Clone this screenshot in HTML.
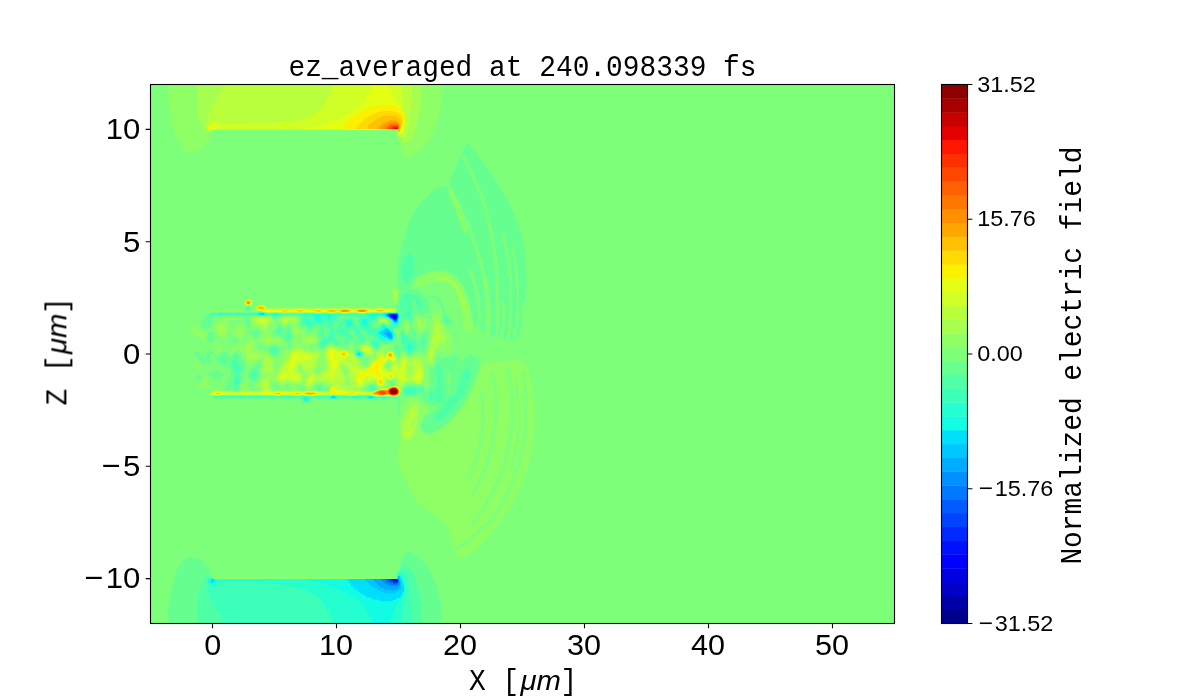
<!DOCTYPE html>
<html lang="en"><head><meta charset="utf-8"><title>ez_averaged at 240.098339 fs</title>
<style>
html,body{margin:0;padding:0;background:#fff;}
body{width:1200px;height:700px;overflow:hidden;font-family:"Liberation Sans",sans-serif;}
svg{display:block;}
.sans{font-family:"Liberation Sans",sans-serif;fill:#000;}
.mono{font-family:"Liberation Mono",monospace;fill:#000;}
.ital{font-family:"Liberation Sans",sans-serif;font-style:italic;fill:#000;}
.ln{stroke:#000;stroke-width:1.111;fill:none;}
</style></head><body>
<svg width="1200" height="700" viewBox="0 0 1200 700">
<rect x="0" y="0" width="1200" height="700" fill="#fff"/>

<defs>
<clipPath id="axclip"><rect x="150.5" y="84.5" width="744.0" height="539.0"/></clipPath>
<filter id="jet" filterUnits="userSpaceOnUse" x="140" y="74" width="765" height="560" color-interpolation-filters="sRGB">
<feComponentTransfer><feFuncR type="discrete" tableValues="0.0000 0.0000 0.0000 0.0000 0.0000 0.0000 0.0000 0.0000 0.0000 0.0000 0.0000 0.0000 0.0000 0.0000 0.0745 0.1490 0.2353 0.3137 0.4000 0.4902 0.5647 0.6549 0.7294 0.8196 0.8941 0.9843 1.0000 1.0000 1.0000 1.0000 1.0000 1.0000 1.0000 1.0000 1.0000 0.8941 0.7843 0.6588 0.5529"/><feFuncG type="discrete" tableValues="0.0000 0.0000 0.0000 0.0000 0.0000 0.0627 0.1569 0.2667 0.3608 0.4706 0.5647 0.6745 0.7843 0.8784 0.9882 1.0000 1.0000 1.0000 1.0000 1.0000 1.0000 1.0000 1.0000 1.0000 1.0000 0.9451 0.8588 0.7569 0.6549 0.5686 0.4667 0.3765 0.2784 0.1882 0.0863 0.0000 0.0000 0.0000 0.0000"/><feFuncB type="discrete" tableValues="0.5529 0.6588 0.7843 0.8902 1.0000 1.0000 1.0000 1.0000 1.0000 1.0000 1.0000 1.0000 1.0000 0.9843 0.8941 0.8196 0.7294 0.6549 0.5647 0.4784 0.4000 0.3137 0.2353 0.1490 0.0745 0.0000 0.0000 0.0000 0.0000 0.0000 0.0000 0.0000 0.0000 0.0000 0.0000 0.0000 0.0000 0.0000 0.0000"/></feComponentTransfer>
<feGaussianBlur stdDeviation="0.45"/>
</filter>
<filter id="b15" filterUnits="userSpaceOnUse" x="140" y="60" width="765" height="590" color-interpolation-filters="sRGB"><feGaussianBlur stdDeviation="1.5"/></filter>
<filter id="b08" filterUnits="userSpaceOnUse" x="140" y="60" width="765" height="590" color-interpolation-filters="sRGB"><feGaussianBlur stdDeviation="0.8"/></filter>
<filter id="b6" filterUnits="userSpaceOnUse" x="140" y="60" width="765" height="590" color-interpolation-filters="sRGB"><feGaussianBlur stdDeviation="6"/></filter>
<filter id="b3" filterUnits="userSpaceOnUse" x="140" y="60" width="765" height="590" color-interpolation-filters="sRGB"><feGaussianBlur stdDeviation="3"/></filter>
</defs>
<g clip-path="url(#axclip)"><g filter="url(#jet)">
<rect x="130" y="60" width="790" height="590" fill="#808080"/>
<g filter="url(#b15)" transform="translate(0,0.4)">
<path d="M168.9 40.0C127.9 43.3 168.9 55.4 168.9 62.0C168.9 68.6 169.0 77.8 168.9 84.0C168.8 90.2 167.8 97.6 168.3 103.0C168.8 108.4 171.1 114.9 172.3 120.0C173.5 125.1 174.5 132.7 176.3 137.0C178.1 141.3 182.4 146.4 184.3 148.6C186.2 150.8 186.5 151.4 188.9 151.4C191.3 151.4 197.4 150.2 200.3 148.6C203.2 147.0 206.6 143.2 208.3 140.6C210.0 138.0 210.8 133.7 211.7 131.4C212.6 129.1 200.8 126.0 214.0 125.0C227.2 124.0 272.7 125.0 300.0 125.0C327.3 125.0 381.1 122.6 396.0 125.0C410.9 127.4 398.1 137.2 399.0 141.0C399.9 144.8 400.7 147.7 402.0 150.0C403.3 152.3 405.8 156.0 407.7 156.6C409.6 157.2 412.9 155.3 415.0 154.0C417.1 152.7 419.8 150.6 422.0 148.0C424.2 145.4 427.8 141.2 430.0 137.0C432.2 132.8 435.4 124.5 437.0 120.0C438.6 115.5 439.9 112.1 440.7 106.7C441.4 101.3 441.8 90.7 442.0 84.0C442.2 77.3 442.0 68.6 442.0 62.0C442.0 55.4 483.0 43.3 442.0 40.0C401.0 36.7 209.9 36.7 168.9 40.0Z" fill="#868686"/>
<path d="M197.4 40.0C163.6 43.3 197.4 55.4 197.4 62.0C197.4 68.6 197.5 77.8 197.4 84.0C197.3 90.2 196.7 97.9 196.9 103.0C197.1 108.1 198.0 114.0 199.0 117.7C200.0 121.5 202.3 125.9 203.7 128.0C205.1 130.1 207.1 131.6 208.3 131.8C209.5 132.0 210.8 130.6 212.0 129.4C213.2 128.2 202.8 124.8 216.0 124.0C229.2 123.2 273.0 124.0 300.0 124.0C327.0 124.0 381.1 122.0 396.0 124.0C410.9 126.0 398.6 134.4 399.5 137.0C400.4 139.6 401.1 140.6 402.0 141.5C402.9 142.4 404.2 143.3 405.4 142.9C406.6 142.5 408.7 140.5 410.0 139.0C411.3 137.5 412.8 135.8 414.0 133.0C415.2 130.2 417.0 123.9 418.0 120.0C419.0 116.1 420.0 112.1 420.7 106.7C421.4 101.3 422.3 90.7 422.6 84.0C422.9 77.3 422.6 68.6 422.6 62.0C422.6 55.4 456.4 43.3 422.6 40.0C388.8 36.7 231.2 36.7 197.4 40.0Z" fill="#8d8d8d"/>
<path d="M224.3 40.0C196.1 43.3 224.3 55.4 224.3 62.0C224.3 68.6 225.2 79.0 224.3 84.0C223.4 89.0 220.5 91.5 218.6 95.0C216.7 98.5 213.2 104.0 211.7 107.4C210.2 110.8 208.7 115.0 208.3 117.7C207.9 120.4 208.3 123.9 208.9 125.7C209.5 127.5 210.9 129.8 212.0 129.8C213.1 129.8 202.8 126.6 216.0 126.0C229.2 125.4 273.0 126.0 300.0 126.0C327.0 126.0 381.0 124.8 396.0 126.0C411.0 127.2 398.9 132.3 400.0 134.0C401.1 135.7 402.1 137.5 403.0 137.5C403.9 137.5 405.2 135.9 406.0 134.0C406.8 132.1 407.8 129.1 408.5 125.0C409.2 120.9 409.9 112.9 410.5 106.7C411.1 100.5 412.0 90.7 412.3 84.0C412.6 77.3 412.3 68.6 412.3 62.0C412.3 55.4 440.5 43.3 412.3 40.0C384.1 36.7 252.5 36.7 224.3 40.0Z" fill="#939393"/>
<path d="M333.0 40.0C322.7 43.3 333.0 55.4 333.0 62.0C333.0 68.6 333.6 79.1 333.0 84.0C332.4 88.9 330.6 91.6 329.0 94.9C327.4 98.2 324.7 103.4 322.3 106.3C319.9 109.2 316.8 112.2 313.0 114.3C309.2 116.4 303.4 118.8 297.0 120.0C290.6 121.2 278.6 121.8 270.0 122.3C261.4 122.8 247.2 123.1 240.0 123.2C232.8 123.3 225.6 123.4 222.0 123.0C218.4 122.6 217.4 120.7 216.0 120.5C214.6 120.3 213.3 120.7 212.5 121.5C211.7 122.3 210.6 124.7 210.5 126.0C210.4 127.3 198.6 129.2 212.0 130.0C225.4 130.8 272.4 130.8 300.0 131.0C327.6 131.2 380.9 131.0 396.0 131.0C411.1 131.0 399.6 132.7 400.5 131.0C401.4 129.3 402.0 124.7 402.3 120.0C402.6 115.3 402.6 105.4 402.5 100.0C402.4 94.6 401.8 89.7 401.7 84.0C401.6 78.3 401.7 68.6 401.7 62.0C401.7 55.4 412.0 43.3 401.7 40.0C391.4 36.7 343.3 36.7 333.0 40.0Z" fill="#9a9a9a"/>
<path d="M373.0 40.0C370.6 43.3 373.0 55.4 373.0 62.0C373.0 68.6 373.9 78.8 373.0 84.0C372.1 89.2 368.9 93.7 367.0 97.0C365.1 100.3 362.6 103.9 360.0 106.3C357.4 108.7 353.1 110.9 349.7 113.0C346.2 115.1 341.5 118.1 337.0 120.0C332.5 121.9 324.9 124.4 320.0 125.7C315.1 127.0 307.0 127.9 304.0 129.0C301.0 130.1 293.1 132.1 300.0 133.0C306.9 133.9 335.6 135.0 350.0 135.0C364.4 135.0 388.1 133.6 396.0 133.0C403.9 132.4 401.5 132.9 402.6 131.0C403.7 129.1 403.8 123.7 403.4 120.6C403.0 117.5 401.3 113.5 400.0 110.3C398.7 107.1 396.6 102.9 395.0 99.0C393.4 95.1 389.9 89.5 389.0 84.0C388.1 78.5 389.0 68.6 389.0 62.0C389.0 55.4 391.4 43.3 389.0 40.0C386.6 36.7 375.4 36.7 373.0 40.0Z" fill="#a0a0a0"/>
</g>
<defs><radialGradient id="hst" gradientUnits="userSpaceOnUse" cx="0" cy="0" r="1" fx="0.8534" fy="0.0250" gradientTransform="translate(366.36,128.18) matrix(1,0,-0.55,1,0,0) scale(36.60,28.80)"><stop offset="0" stop-color="#f2f2f2"/><stop offset="0.0167" stop-color="#ebebeb" stop-opacity="1.0"/><stop offset="0.0417" stop-color="#e5e5e5" stop-opacity="1.0"/><stop offset="0.0667" stop-color="#dedede" stop-opacity="1.0"/><stop offset="0.0917" stop-color="#d8d8d8" stop-opacity="1.0"/><stop offset="0.1167" stop-color="#d1d1d1" stop-opacity="1.0"/><stop offset="0.1500" stop-color="#cbcbcb" stop-opacity="1.0"/><stop offset="0.1833" stop-color="#c4c4c4" stop-opacity="1.0"/><stop offset="0.2333" stop-color="#bebebe" stop-opacity="1.0"/><stop offset="0.3000" stop-color="#b7b7b7" stop-opacity="1.0"/><stop offset="0.4417" stop-color="#b1b1b1" stop-opacity="1.0"/><stop offset="0.6000" stop-color="#aaaaaa" stop-opacity="1.0"/><stop offset="0.8333" stop-color="#a3a3a3" stop-opacity="1.0"/><stop offset="0.9333" stop-color="#9d9d9d" stop-opacity="0.0"/></radialGradient>
<clipPath id="cpt"><rect x="150" y="40.00" width="300" height="89.80"/></clipPath></defs>
<rect x="200" y="40.00" width="230" height="89.80" fill="url(#hst)" clip-path="url(#cpt)"/>
<rect x="212.6" y="129.80" width="185.0" height="26.00" fill="#808080"/>
<defs><radialGradient id="let" gradientUnits="userSpaceOnUse" cx="212.6" cy="127.60" r="6"><stop offset="0" stop-color="#a7a7a7"/><stop offset="0.35" stop-color="#a3a3a3"/><stop offset="0.6" stop-color="#9e9e9e" stop-opacity="0.9"/><stop offset="1" stop-color="#969696" stop-opacity="0"/></radialGradient></defs>
<rect x="205" y="121.60" width="16" height="8.20" fill="url(#let)"/>
<defs><radialGradient id="wrt" gradientUnits="userSpaceOnUse" cx="397.2" cy="128.90" r="10"><stop offset="0" stop-color="#dbdbdb"/><stop offset="0.2" stop-color="#bababa"/><stop offset="0.42" stop-color="#a4a4a4"/><stop offset="0.62" stop-color="#9a9a9a" stop-opacity="0.8"/><stop offset="1" stop-color="#909090" stop-opacity="0"/></radialGradient></defs>
<rect x="397.6" y="129.80" width="12" height="12" fill="url(#wrt)"/>
<g filter="url(#b15)" transform="translate(0,-0.4)">
<path d="M168.9 668.5C127.9 665.2 168.9 653.1 168.9 646.5C168.9 639.9 169.0 630.6 168.9 624.5C168.8 618.4 167.8 610.9 168.3 605.5C168.8 600.1 171.1 593.6 172.3 588.5C173.5 583.4 174.5 575.8 176.3 571.5C178.1 567.2 182.4 562.1 184.3 559.9C186.2 557.7 186.5 557.1 188.9 557.1C191.3 557.1 197.4 558.3 200.3 559.9C203.2 561.5 206.6 565.3 208.3 567.9C210.0 570.5 210.8 574.8 211.7 577.1C212.6 579.4 200.8 582.5 214.0 583.5C227.2 584.5 272.7 583.5 300.0 583.5C327.3 583.5 381.1 585.9 396.0 583.5C410.9 581.1 398.1 571.2 399.0 567.5C399.9 563.8 400.7 560.8 402.0 558.5C403.3 556.2 405.8 552.5 407.7 551.9C409.6 551.3 412.9 553.2 415.0 554.5C417.1 555.8 419.8 558.0 422.0 560.5C424.2 563.0 427.8 567.3 430.0 571.5C432.2 575.7 435.4 584.0 437.0 588.5C438.6 593.0 439.9 596.4 440.7 601.8C441.4 607.2 441.8 617.8 442.0 624.5C442.2 631.2 442.0 639.9 442.0 646.5C442.0 653.1 483.0 665.2 442.0 668.5C401.0 671.8 209.9 671.8 168.9 668.5Z" fill="#797979"/>
<path d="M197.4 668.5C163.6 665.2 197.4 653.1 197.4 646.5C197.4 639.9 197.5 630.6 197.4 624.5C197.3 618.4 196.7 610.6 196.9 605.5C197.1 600.4 198.0 594.5 199.0 590.8C200.0 587.0 202.3 582.6 203.7 580.5C205.1 578.4 207.1 576.9 208.3 576.7C209.5 576.5 210.8 577.9 212.0 579.1C213.2 580.3 202.8 583.7 216.0 584.5C229.2 585.3 273.0 584.5 300.0 584.5C327.0 584.5 381.1 586.5 396.0 584.5C410.9 582.5 398.6 574.1 399.5 571.5C400.4 568.9 401.1 567.9 402.0 567.0C402.9 566.1 404.2 565.2 405.4 565.6C406.6 566.0 408.7 568.0 410.0 569.5C411.3 571.0 412.8 572.6 414.0 575.5C415.2 578.4 417.0 584.6 418.0 588.5C419.0 592.4 420.0 596.4 420.7 601.8C421.4 607.2 422.3 617.8 422.6 624.5C422.9 631.2 422.6 639.9 422.6 646.5C422.6 653.1 456.4 665.2 422.6 668.5C388.8 671.8 231.2 671.8 197.4 668.5Z" fill="#727272"/>
<path d="M224.3 668.5C196.1 665.2 224.3 653.1 224.3 646.5C224.3 639.9 225.2 629.5 224.3 624.5C223.4 619.5 220.5 617.0 218.6 613.5C216.7 610.0 213.2 604.5 211.7 601.1C210.2 597.7 208.7 593.5 208.3 590.8C207.9 588.1 208.3 584.6 208.9 582.8C209.5 581.0 210.9 578.7 212.0 578.7C213.1 578.7 202.8 581.9 216.0 582.5C229.2 583.1 273.0 582.5 300.0 582.5C327.0 582.5 381.0 583.7 396.0 582.5C411.0 581.3 398.9 576.2 400.0 574.5C401.1 572.8 402.1 571.0 403.0 571.0C403.9 571.0 405.2 572.6 406.0 574.5C406.8 576.4 407.8 579.4 408.5 583.5C409.2 587.6 409.9 595.6 410.5 601.8C411.1 607.9 412.0 617.8 412.3 624.5C412.6 631.2 412.3 639.9 412.3 646.5C412.3 653.1 440.5 665.2 412.3 668.5C384.1 671.8 252.5 671.8 224.3 668.5Z" fill="#6c6c6c"/>
<path d="M333.0 668.5C322.7 665.2 333.0 653.1 333.0 646.5C333.0 639.9 333.6 629.4 333.0 624.5C332.4 619.6 330.6 616.9 329.0 613.6C327.4 610.3 324.7 605.1 322.3 602.2C319.9 599.3 316.8 596.4 313.0 594.2C309.2 592.0 303.4 588.9 297.0 587.3C290.6 585.7 278.6 584.5 270.0 583.8C261.4 583.1 247.2 583.0 240.0 582.9C232.8 582.8 225.6 582.7 222.0 583.1C218.4 583.5 217.4 585.4 216.0 585.6C214.6 585.8 213.3 585.1 212.5 584.6C211.7 584.1 210.6 583.4 210.5 582.5C210.4 581.6 198.6 579.2 212.0 578.5C225.4 577.8 272.4 577.6 300.0 577.5C327.6 577.4 380.9 577.5 396.0 577.5C411.1 577.5 399.6 575.9 400.5 577.5C401.4 579.1 402.0 583.9 402.3 588.5C402.6 593.1 402.6 603.1 402.5 608.5C402.4 613.9 401.8 618.8 401.7 624.5C401.6 630.2 401.7 639.9 401.7 646.5C401.7 653.1 412.0 665.2 401.7 668.5C391.4 671.8 343.3 671.8 333.0 668.5Z" fill="#656565"/>
<path d="M373.0 668.5C370.6 665.2 373.0 653.1 373.0 646.5C373.0 639.9 373.9 629.8 373.0 624.5C372.1 619.2 368.9 614.8 367.0 611.5C365.1 608.2 362.6 604.6 360.0 602.2C357.4 599.8 353.1 597.6 349.7 595.5C346.2 593.4 341.5 590.4 337.0 588.5C332.5 586.6 324.9 584.1 320.0 582.8C315.1 581.4 307.0 580.6 304.0 579.5C301.0 578.4 293.1 576.4 300.0 575.5C306.9 574.6 335.6 573.5 350.0 573.5C364.4 573.5 388.1 574.9 396.0 575.5C403.9 576.1 401.5 575.6 402.6 577.5C403.7 579.4 403.8 584.8 403.4 587.9C403.0 591.0 401.3 595.0 400.0 598.2C398.7 601.4 396.6 605.6 395.0 609.5C393.4 613.4 389.9 619.0 389.0 624.5C388.1 630.0 389.0 639.9 389.0 646.5C389.0 653.1 391.4 665.2 389.0 668.5C386.6 671.8 375.4 671.8 373.0 668.5Z" fill="#5f5f5f"/>
</g>
<defs><radialGradient id="hsb" gradientUnits="userSpaceOnUse" cx="0" cy="0" r="1" fx="0.8534" fy="-0.0250" gradientTransform="translate(366.36,580.32) matrix(1,0,0.55,1,0,0) scale(36.60,28.80)"><stop offset="0" stop-color="#0d0d0d"/><stop offset="0.0130" stop-color="#141414" stop-opacity="1.0"/><stop offset="0.0325" stop-color="#1a1a1a" stop-opacity="1.0"/><stop offset="0.0520" stop-color="#212121" stop-opacity="1.0"/><stop offset="0.0715" stop-color="#272727" stop-opacity="1.0"/><stop offset="0.0910" stop-color="#2e2e2e" stop-opacity="1.0"/><stop offset="0.1170" stop-color="#343434" stop-opacity="1.0"/><stop offset="0.1430" stop-color="#3b3b3b" stop-opacity="1.0"/><stop offset="0.1820" stop-color="#414141" stop-opacity="1.0"/><stop offset="0.2340" stop-color="#484848" stop-opacity="1.0"/><stop offset="0.3445" stop-color="#4e4e4e" stop-opacity="1.0"/><stop offset="0.4680" stop-color="#555555" stop-opacity="1.0"/><stop offset="0.7500" stop-color="#5c5c5c" stop-opacity="1.0"/><stop offset="0.9333" stop-color="#626262" stop-opacity="0.0"/></radialGradient>
<clipPath id="cpb"><rect x="150" y="578.70" width="300" height="89.80"/></clipPath></defs>
<rect x="200" y="578.70" width="230" height="89.80" fill="url(#hsb)" clip-path="url(#cpb)"/>
<rect x="212.6" y="552.70" width="185.0" height="26.00" fill="#808080"/>
<defs><radialGradient id="leb" gradientUnits="userSpaceOnUse" cx="212.6" cy="580.90" r="6"><stop offset="0" stop-color="#585858"/><stop offset="0.35" stop-color="#5c5c5c"/><stop offset="0.6" stop-color="#616161" stop-opacity="0.9"/><stop offset="1" stop-color="#696969" stop-opacity="0"/></radialGradient></defs>
<rect x="205" y="578.70" width="16" height="8.20" fill="url(#leb)"/>
<rect x="214" y="577.70" width="182" height="1.0" fill="#8b8b8b"/>
<defs><radialGradient id="wrb" gradientUnits="userSpaceOnUse" cx="397.2" cy="579.60" r="10"><stop offset="0" stop-color="#242424"/><stop offset="0.2" stop-color="#454545"/><stop offset="0.42" stop-color="#5b5b5b"/><stop offset="0.62" stop-color="#656565" stop-opacity="0.8"/><stop offset="1" stop-color="#6f6f6f" stop-opacity="0"/></radialGradient></defs>
<rect x="397.6" y="566.70" width="12" height="12" fill="url(#wrb)"/>
<g filter="url(#b15)">
<path d="M467.5 143.5C470.0 144.2 474.2 151.2 478.0 156.0C481.8 160.8 485.5 165.3 490.0 172.0C494.5 178.7 500.5 187.8 505.0 196.0C509.5 204.2 513.8 212.7 517.0 221.0C520.2 229.3 522.4 237.5 524.0 246.0C525.6 254.5 526.2 263.0 526.5 272.0C526.8 281.0 526.8 291.2 526.0 300.0C525.2 308.8 523.8 318.3 522.0 325.0C520.2 331.7 520.3 338.2 515.0 340.0C509.7 341.8 497.8 339.7 490.0 336.0C482.2 332.3 472.7 324.7 468.0 318.0C463.3 311.3 465.5 303.0 462.0 296.0C458.5 289.0 452.3 280.0 447.0 276.0C441.7 272.0 435.2 271.0 430.0 272.0C424.8 273.0 420.3 279.0 416.0 282.0C411.7 285.0 407.1 289.3 404.0 290.0C400.9 290.7 398.4 290.7 397.5 286.0C396.6 281.3 397.6 269.2 398.5 262.0C399.4 254.8 401.2 249.7 403.0 243.0C404.8 236.3 406.2 228.5 409.0 222.0C411.8 215.5 415.5 209.6 420.0 204.0C424.5 198.4 431.7 191.5 436.0 188.5C440.3 185.5 443.3 188.1 446.0 186.0C448.7 183.9 449.9 180.3 452.0 176.0C454.1 171.7 456.7 164.0 458.5 160.0C460.3 156.0 461.5 154.8 463.0 152.0C464.5 149.2 465.0 142.8 467.5 143.5Z" fill="#797979"/>
<path d="M524.5 363.0C530.0 369.2 531.1 388.6 532.8 399.0C534.4 409.4 535.2 414.4 534.4 425.4C533.6 436.4 531.6 451.7 527.8 464.8C524.0 477.9 518.0 492.0 511.4 504.0C504.8 516.0 496.1 528.2 488.4 537.0C480.7 545.8 470.9 554.0 465.4 556.8C459.9 559.5 458.9 559.0 455.6 553.5C452.3 548.0 451.7 532.2 445.7 524.0C439.7 515.8 426.0 511.2 419.4 504.0C412.8 496.8 409.9 488.1 406.3 481.0C402.7 473.9 398.9 468.6 398.0 461.5C397.1 454.4 400.7 446.2 401.0 438.5C401.3 430.8 400.0 422.1 399.7 415.5C399.4 408.9 396.4 401.6 399.0 399.0C401.6 396.4 409.5 394.8 415.0 400.0C420.5 405.2 425.8 427.5 432.0 430.0C438.2 432.5 445.7 422.5 452.0 415.0C458.3 407.5 465.3 393.2 470.0 385.0C474.7 376.8 475.0 369.8 480.0 366.0C485.0 362.2 492.6 362.5 500.0 362.0C507.4 361.5 519.0 356.8 524.5 363.0Z" fill="#868686"/>
</g>
<g filter="url(#b08)">
<path d="M463.0 156.0C464.2 158.3 467.5 164.7 470.0 170.0C472.5 175.3 475.4 181.8 478.0 188.0C480.6 194.2 483.4 200.2 485.5 207.0C487.6 213.8 489.1 221.8 490.5 229.0C491.9 236.2 493.0 243.0 494.0 250.0C495.0 257.0 495.8 262.7 496.5 271.0C497.2 279.3 497.9 291.0 498.0 300.0C498.1 309.0 497.2 320.8 497.0 325.0" fill="none" stroke="#898989" stroke-width="1.7" stroke-linecap="round"/>
<path d="M447.0 184.0C448.3 186.3 452.3 193.0 455.0 198.0C457.7 203.0 460.3 208.3 463.0 214.0C465.7 219.7 468.6 225.7 471.0 232.0C473.4 238.3 475.5 245.3 477.5 252.0C479.5 258.7 481.6 265.3 483.0 272.0C484.4 278.7 485.3 285.3 486.0 292.0C486.7 298.7 486.8 308.7 487.0 312.0" fill="none" stroke="#898989" stroke-width="1.8" stroke-linecap="round"/>
<path d="M450.0 190.0C450.5 191.7 451.5 196.0 453.0 200.0C454.5 204.0 456.8 208.7 459.0 214.0C461.2 219.3 464.8 229.0 466.0 232.0" fill="none" stroke="#898989" stroke-width="2.4" stroke-linecap="round"/>
<path d="M503.0 236.0C503.8 239.7 506.8 250.7 508.0 258.0C509.2 265.3 510.0 272.2 510.5 280.0C511.0 287.8 511.2 296.7 511.0 305.0C510.8 313.3 509.3 325.8 509.0 330.0" fill="none" stroke="#898989" stroke-width="1.4" stroke-linecap="round"/>
<path d="M512.0 246.0C512.7 249.7 515.0 260.3 516.0 268.0C517.0 275.7 517.8 283.7 518.0 292.0C518.2 300.3 517.7 310.3 517.0 318.0C516.3 325.7 514.5 334.7 514.0 338.0" fill="none" stroke="#898989" stroke-width="1.2" stroke-linecap="round"/>
<path d="M480.0 262.0C481.0 265.3 484.5 275.3 486.0 282.0C487.5 288.7 488.4 295.3 489.0 302.0C489.6 308.7 489.7 316.3 489.5 322.0C489.3 327.7 488.2 333.7 488.0 336.0" fill="none" stroke="#898989" stroke-width="1.5" stroke-linecap="round"/>
<path d="M470.0 270.0C471.0 273.3 474.5 283.3 476.0 290.0C477.5 296.7 478.5 303.3 479.0 310.0C479.5 316.7 479.0 326.7 479.0 330.0" fill="none" stroke="#898989" stroke-width="1.6" stroke-linecap="round"/>
<path d="M503.0 300.0C503.1 303.0 503.8 311.7 503.5 318.0C503.2 324.3 501.4 334.7 501.0 338.0" fill="none" stroke="#898989" stroke-width="1.5" stroke-linecap="round"/>
<path d="M496.5 285.0C496.8 288.3 497.8 298.8 498.0 305.0C498.2 311.2 497.8 316.5 497.5 322.0C497.2 327.5 496.2 335.3 496.0 338.0" fill="none" stroke="#828282" stroke-width="2.6" stroke-linecap="round"/>
<path d="M486.0 290.0C486.2 293.0 487.1 302.0 487.2 308.0C487.3 314.0 486.9 320.7 486.5 326.0C486.1 331.3 485.2 337.7 485.0 340.0" fill="none" stroke="#828282" stroke-width="2.8" stroke-linecap="round"/>
<path d="M510.5 288.0C510.6 291.3 511.2 301.3 511.0 308.0C510.8 314.7 510.0 322.3 509.5 328.0C509.0 333.7 508.2 339.7 508.0 342.0" fill="none" stroke="#828282" stroke-width="2.4" stroke-linecap="round"/>
<path d="M478.0 296.0C478.2 299.0 479.1 307.7 479.2 314.0C479.3 320.3 478.6 330.7 478.5 334.0" fill="none" stroke="#828282" stroke-width="2.6" stroke-linecap="round"/>
<path d="M518.0 296.0C517.9 299.3 518.0 309.3 517.5 316.0C517.0 322.7 515.4 332.7 515.0 336.0" fill="none" stroke="#828282" stroke-width="2.0" stroke-linecap="round"/>
<path d="M503.5 305.0C503.5 307.8 503.8 316.2 503.5 322.0C503.2 327.8 502.2 337.0 502.0 340.0" fill="none" stroke="#828282" stroke-width="2.2" stroke-linecap="round"/>
<path d="M523.5 300.0C523.3 303.7 522.7 318.3 522.5 322.0" fill="none" stroke="#828282" stroke-width="1.6" stroke-linecap="round"/>
<path d="M418.0 283.0C420.0 282.0 425.5 278.2 430.0 277.0C434.5 275.8 440.7 274.8 445.0 276.0C449.3 277.2 453.0 280.3 456.0 284.0C459.0 287.7 461.2 293.0 463.0 298.0C464.8 303.0 466.0 309.0 467.0 314.0C468.0 319.0 468.7 325.7 469.0 328.0" fill="none" stroke="#868686" stroke-width="9" stroke-linecap="round"/>
<path d="M436.0 279.0C437.8 279.1 443.7 278.2 447.0 279.5C450.3 280.8 453.5 283.6 456.0 287.0C458.5 290.4 460.5 295.8 462.0 300.0C463.5 304.2 464.5 310.0 465.0 312.0" fill="none" stroke="#8d8d8d" stroke-width="3.2" stroke-linecap="round"/>
<ellipse cx="408.0" cy="268.0" rx="6.0" ry="14.0" fill="#707070" transform="rotate(8 408.0 268.0)"/>
<path d="M430.0 296.0C431.3 296.7 435.7 297.3 438.0 300.0C440.3 302.7 442.5 307.0 444.0 312.0C445.5 317.0 446.5 327.0 447.0 330.0" fill="none" stroke="#797979" stroke-width="3" stroke-linecap="round"/>
<path d="M410.0 300.0C411.0 301.7 414.5 305.7 416.0 310.0C417.5 314.3 418.5 323.3 419.0 326.0" fill="none" stroke="#797979" stroke-width="3" stroke-linecap="round"/>
<path d="M523.0 372.0C523.5 376.7 525.7 390.3 526.0 400.0C526.3 409.7 526.2 419.7 525.0 430.0C523.8 440.3 522.2 451.0 519.0 462.0C515.8 473.0 511.0 485.7 506.0 496.0C501.0 506.3 491.8 519.3 489.0 524.0" fill="none" stroke="#767676" stroke-width="1.6" stroke-linecap="round"/>
<path d="M508.0 368.0C508.7 373.0 511.5 387.7 512.0 398.0C512.5 408.3 512.3 419.0 511.0 430.0C509.7 441.0 507.5 452.8 504.0 464.0C500.5 475.2 495.3 486.7 490.0 497.0C484.7 507.3 475.0 521.2 472.0 526.0" fill="none" stroke="#767676" stroke-width="1.5" stroke-linecap="round"/>
<path d="M492.0 372.0C492.7 376.7 495.7 390.0 496.0 400.0C496.3 410.0 495.7 421.0 494.0 432.0C492.3 443.0 489.5 455.7 486.0 466.0C482.5 476.3 475.2 489.3 473.0 494.0" fill="none" stroke="#767676" stroke-width="1.5" stroke-linecap="round"/>
<path d="M516.0 380.0C516.5 385.0 518.8 400.0 519.0 410.0C519.2 420.0 518.3 430.0 517.0 440.0C515.7 450.0 512.0 465.0 511.0 470.0" fill="none" stroke="#767676" stroke-width="1.2" stroke-linecap="round"/>
<path d="M481.0 392.0C481.3 396.7 483.5 410.0 483.0 420.0C482.5 430.0 480.5 442.0 478.0 452.0C475.5 462.0 469.7 475.3 468.0 480.0" fill="none" stroke="#767676" stroke-width="1.4" stroke-linecap="round"/>
<path d="M456.0 548.0C458.3 546.7 465.0 544.0 470.0 540.0C475.0 536.0 483.3 526.7 486.0 524.0" fill="none" stroke="#767676" stroke-width="1.5" stroke-linecap="round"/>
<path d="M471.0 364.0C470.0 367.2 467.8 376.5 465.0 383.0C462.2 389.5 458.0 397.3 454.0 403.0C450.0 408.7 445.2 413.3 441.0 417.0C436.8 420.7 431.0 423.7 429.0 425.0" fill="none" stroke="#767676" stroke-width="17" stroke-linecap="round"/>
<path d="M467.0 372.0C465.8 375.2 463.0 385.2 460.0 391.0C457.0 396.8 452.7 402.7 449.0 407.0C445.3 411.3 439.8 415.3 438.0 417.0" fill="none" stroke="#707070" stroke-width="4.5" stroke-linecap="round"/>
<ellipse cx="409.0" cy="424.0" rx="8.0" ry="16.0" fill="#909090" transform="rotate(10 409.0 424.0)"/>
</g>
<defs>
<filter id="nz" filterUnits="userSpaceOnUse" x="170" y="290" width="300" height="130" color-interpolation-filters="sRGB">
<feTurbulence type="fractalNoise" baseFrequency="0.07 0.055" numOctaves="2" seed="11" result="t"/>
<feColorMatrix type="matrix" values="0.42 0 0 0 0.29  0.42 0 0 0 0.29  0.42 0 0 0 0.29  0 0 0 0 1"/>
</filter>
<linearGradient id="chfade" gradientUnits="userSpaceOnUse" x1="180" y1="0" x2="470" y2="0">
<stop offset="0" stop-color="#fff" stop-opacity="0"/><stop offset="0.1" stop-color="#fff" stop-opacity="0.38"/><stop offset="0.4" stop-color="#fff" stop-opacity="0.72"/>
<stop offset="0.75" stop-color="#fff" stop-opacity="1"/><stop offset="0.82" stop-color="#fff" stop-opacity="0.6"/><stop offset="1" stop-color="#fff" stop-opacity="0"/></linearGradient>
<mask id="chmask" maskUnits="userSpaceOnUse" x="170" y="290" width="300" height="130"><rect x="170" y="313.2" width="300" height="82.40000000000003" fill="url(#chfade)"/></mask>
<clipPath id="chclip"><rect x="150" y="313.2" width="248" height="82.40000000000003"/></clipPath>
</defs>
<g mask="url(#chmask)"><rect x="170" y="290" width="300" height="130" filter="url(#nz)"/></g>
<g clip-path="url(#chclip)"><g filter="url(#b6)">
<ellipse cx="318" cy="370" rx="55" ry="20" fill="#fff" opacity="0.14"/>
<ellipse cx="372" cy="378" rx="26" ry="14" fill="#fff" opacity="0.12"/>
<ellipse cx="350" cy="330" rx="45" ry="14" fill="#000" opacity="0.10"/>
<ellipse cx="240" cy="332" rx="26" ry="12" fill="#fff" opacity="0.05"/>
<ellipse cx="235" cy="368" rx="24" ry="14" fill="#000" opacity="0.05"/>
</g></g>
<g filter="url(#b08)">
<rect x="262" y="309.3" width="134" height="3.4" fill="#b1b1b1"/>
<rect x="211" y="311.0" width="52" height="1.6" fill="#909090"/>
<rect x="211" y="312.9" width="187" height="2.2" fill="#5a5a5a"/>
<ellipse cx="345.0" cy="311.0" rx="5.0" ry="1.7" fill="#cbcbcb"/>
<ellipse cx="362.0" cy="311.0" rx="5.0" ry="1.7" fill="#cecece"/>
<ellipse cx="380.0" cy="311.0" rx="4.0" ry="1.7" fill="#c1c1c1"/>
<ellipse cx="332.0" cy="311.0" rx="4.0" ry="1.7" fill="#c1c1c1"/>
<ellipse cx="318.0" cy="311.0" rx="3.0" ry="1.7" fill="#bababa"/>
<ellipse cx="300.0" cy="311.0" rx="4.0" ry="1.7" fill="#b7b7b7"/>
<ellipse cx="285.0" cy="311.0" rx="3.0" ry="1.7" fill="#b7b7b7"/>
<ellipse cx="248.3" cy="302.6" rx="2.8" ry="2.6" fill="#c7c7c7"/>
<ellipse cx="248.0" cy="308.3" rx="1.8" ry="2.2" fill="#626262"/>
<ellipse cx="260.7" cy="307.8" rx="4.4" ry="2.0" fill="#bebebe"/>
<ellipse cx="262.0" cy="313.8" rx="4.5" ry="1.5" fill="#454545"/>
<ellipse cx="275.0" cy="314.0" rx="3.5" ry="1.2" fill="#525252"/>
<rect x="211" y="392.1" width="186" height="3.2" fill="#acacac"/>
<rect x="213" y="395.5" width="185" height="2.2" fill="#5a5a5a"/>
<ellipse cx="218.5" cy="393.7" rx="2.5" ry="1.6" fill="#c1c1c1"/>
<ellipse cx="278.0" cy="393.7" rx="3.0" ry="1.6" fill="#c1c1c1"/>
<ellipse cx="297.6" cy="393.7" rx="3.0" ry="1.6" fill="#bebebe"/>
<ellipse cx="310.0" cy="393.7" rx="7.0" ry="1.6" fill="#cbcbcb"/>
<ellipse cx="333.0" cy="393.7" rx="3.5" ry="1.6" fill="#b4b4b4"/>
<ellipse cx="352.0" cy="393.7" rx="4.0" ry="1.6" fill="#b7b7b7"/>
<ellipse cx="333.0" cy="390.6" rx="3.2" ry="4.5" fill="#a7a7a7"/>
<ellipse cx="333.5" cy="397.1" rx="3.4" ry="1.3" fill="#3e3e3e"/>
<ellipse cx="306.0" cy="399.6" rx="3.8" ry="2.0" fill="#5c5c5c"/>
<ellipse cx="372.0" cy="397.0" rx="5.0" ry="1.2" fill="#454545"/>
<ellipse cx="384.0" cy="397.1" rx="3.5" ry="1.2" fill="#4b4b4b"/>
<ellipse cx="355.0" cy="397.0" rx="3.5" ry="1.1" fill="#525252"/>
</g>
<defs>
<filter id="nz2" filterUnits="userSpaceOnUse" x="380" y="270" width="110" height="170" color-interpolation-filters="sRGB">
<feTurbulence type="fractalNoise" baseFrequency="0.085 0.028" numOctaves="2" seed="5"/>
<feColorMatrix type="matrix" values="0.5 0 0 0 0.25  0.5 0 0 0 0.25  0.5 0 0 0 0.25  0 0 0 0 1"/>
</filter>
<radialGradient id="exfade" gradientUnits="userSpaceOnUse" cx="0" cy="0" r="1" gradientTransform="translate(400,354) scale(62,78)">
<stop offset="0" stop-color="#fff" stop-opacity="1"/><stop offset="0.35" stop-color="#fff" stop-opacity="0.85"/><stop offset="0.7" stop-color="#fff" stop-opacity="0.4"/><stop offset="1" stop-color="#fff" stop-opacity="0"/></radialGradient>
<mask id="exmask" maskUnits="userSpaceOnUse" x="380" y="270" width="110" height="170"><rect x="398" y="270" width="92" height="170" fill="url(#exfade)"/></mask>
</defs>
<g filter="url(#b3)">
<ellipse cx="410.0" cy="305.0" rx="12.0" ry="14.0" fill="#6d6d6d"/>
<ellipse cx="411.0" cy="340.0" rx="13.0" ry="14.0" fill="#606060"/>
<ellipse cx="410.0" cy="370.0" rx="14.0" ry="13.0" fill="#aaaaaa"/>
<ellipse cx="418.0" cy="377.0" rx="6.0" ry="6.0" fill="#b4b4b4"/>
<ellipse cx="428.0" cy="358.0" rx="6.0" ry="7.0" fill="#9a9a9a"/>
<ellipse cx="412.0" cy="389.5" rx="11.0" ry="3.6" fill="#5c5c5c"/>
<ellipse cx="432.0" cy="397.0" rx="15.0" ry="6.0" fill="#6f6f6f"/>
<ellipse cx="436.0" cy="332.0" rx="5.0" ry="15.0" fill="#969696"/>
<ellipse cx="447.0" cy="338.0" rx="3.0" ry="12.0" fill="#909090"/>
<ellipse cx="440.0" cy="380.0" rx="6.0" ry="24.0" fill="#727272"/>
<ellipse cx="455.0" cy="372.0" rx="4.0" ry="20.0" fill="#757575"/>
</g>
<g filter="url(#b15)">
<ellipse cx="406.5" cy="326.0" rx="2.4" ry="8.5" fill="#aaaaaa"/>
<ellipse cx="409.3" cy="345.5" rx="2.2" ry="6.0" fill="#484848"/>
<ellipse cx="395.5" cy="296.0" rx="1.4" ry="9.0" fill="#9a9a9a"/>
</g>
<g mask="url(#exmask)" opacity="0.55"><rect x="380" y="270" width="110" height="170" filter="url(#nz2)"/></g>
<g filter="url(#b15)">
<path d="M370.0 313.8L398.5 313.8L398.0 318.0L396.5 325.0L392.0 320.5L384.0 317.0Z" fill="#525252"/>
<ellipse cx="389.2" cy="334.6" rx="3.6" ry="6.6" fill="#484848" transform="rotate(-28 389.2 334.6)"/>
<ellipse cx="384.0" cy="327.0" rx="2.6" ry="3.6" fill="#5c5c5c" transform="rotate(-30 384.0 327.0)"/>
<path d="M372.0 395.2L399.0 395.2L399.0 389.0L396.0 386.5L388.0 388.0L380.0 390.5Z" fill="#b4b4b4"/>
<ellipse cx="390.0" cy="354.8" rx="2.8" ry="2.8" fill="#c7c7c7"/>
<ellipse cx="393.5" cy="359.0" rx="2.0" ry="3.0" fill="#adadad"/>
<ellipse cx="391.0" cy="376.0" rx="2.6" ry="3.2" fill="#b4b4b4"/>
<ellipse cx="380.5" cy="382.0" rx="2.6" ry="3.0" fill="#b4b4b4"/>
<ellipse cx="394.5" cy="368.0" rx="1.8" ry="4.0" fill="#a7a7a7"/>
<ellipse cx="344.0" cy="354.0" rx="4.0" ry="3.0" fill="#b4b4b4"/>
<ellipse cx="359.0" cy="354.0" rx="3.6" ry="3.0" fill="#525252"/>
<path d="M386.0 359.0C384.7 359.7 380.7 361.2 378.0 363.0C375.3 364.8 372.8 367.7 370.0 370.0C367.2 372.3 362.5 375.8 361.0 377.0" fill="none" stroke="#aaaaaa" stroke-width="4.5" stroke-linecap="round"/>
</g>
<g filter="url(#b08)">
<path d="M386.0 314.0L398.0 314.0L397.4 318.0L395.6 321.5L392.5 318.2L389.0 316.0Z" fill="#171717"/>
<ellipse cx="393.6" cy="391.4" rx="5.0" ry="3.9" fill="#fcfcfc"/>
<ellipse cx="381.5" cy="392.6" rx="6.0" ry="2.7" fill="#d8d8d8"/>
<ellipse cx="376.0" cy="393.6" rx="4.0" ry="1.5" fill="#c1c1c1"/>
</g>
</g></g>
<rect class="ln" x="150.5" y="84.5" width="744.0" height="539.0"/>
<path class="ln" d="M212.50 623.5v4.86M336.50 623.5v4.86M460.50 623.5v4.86M584.50 623.5v4.86M708.50 623.5v4.86M832.50 623.5v4.86M150.5 578.58h-4.86M150.5 466.29h-4.86M150.5 354.00h-4.86M150.5 241.71h-4.86M150.5 129.42h-4.86"/>
<rect x="941.5" y="609.679" width="26.0" height="14.221" fill="#00008d"/>
<rect x="941.5" y="595.859" width="26.0" height="14.221" fill="#0000a8"/>
<rect x="941.5" y="582.038" width="26.0" height="14.221" fill="#0000c8"/>
<rect x="941.5" y="568.218" width="26.0" height="14.221" fill="#0000e3"/>
<rect x="941.5" y="554.397" width="26.0" height="14.221" fill="#0000ff"/>
<rect x="941.5" y="540.577" width="26.0" height="14.221" fill="#0010ff"/>
<rect x="941.5" y="526.756" width="26.0" height="14.221" fill="#0028ff"/>
<rect x="941.5" y="512.936" width="26.0" height="14.221" fill="#0044ff"/>
<rect x="941.5" y="499.115" width="26.0" height="14.221" fill="#005cff"/>
<rect x="941.5" y="485.295" width="26.0" height="14.221" fill="#0078ff"/>
<rect x="941.5" y="471.474" width="26.0" height="14.221" fill="#0090ff"/>
<rect x="941.5" y="457.654" width="26.0" height="14.221" fill="#00acff"/>
<rect x="941.5" y="443.833" width="26.0" height="14.221" fill="#00c8ff"/>
<rect x="941.5" y="430.013" width="26.0" height="14.221" fill="#00e0fb"/>
<rect x="941.5" y="416.192" width="26.0" height="14.221" fill="#13fce4"/>
<rect x="941.5" y="402.372" width="26.0" height="14.221" fill="#26ffd1"/>
<rect x="941.5" y="388.551" width="26.0" height="14.221" fill="#3cffba"/>
<rect x="941.5" y="374.731" width="26.0" height="14.221" fill="#50ffa7"/>
<rect x="941.5" y="360.910" width="26.0" height="14.221" fill="#66ff90"/>
<rect x="941.5" y="347.090" width="26.0" height="14.221" fill="#7dff7a"/>
<rect x="941.5" y="333.269" width="26.0" height="14.221" fill="#90ff66"/>
<rect x="941.5" y="319.449" width="26.0" height="14.221" fill="#a7ff50"/>
<rect x="941.5" y="305.628" width="26.0" height="14.221" fill="#baff3c"/>
<rect x="941.5" y="291.808" width="26.0" height="14.221" fill="#d1ff26"/>
<rect x="941.5" y="277.987" width="26.0" height="14.221" fill="#e4ff13"/>
<rect x="941.5" y="264.167" width="26.0" height="14.221" fill="#fbf100"/>
<rect x="941.5" y="250.346" width="26.0" height="14.221" fill="#ffdb00"/>
<rect x="941.5" y="236.526" width="26.0" height="14.221" fill="#ffc100"/>
<rect x="941.5" y="222.705" width="26.0" height="14.221" fill="#ffa700"/>
<rect x="941.5" y="208.885" width="26.0" height="14.221" fill="#ff9100"/>
<rect x="941.5" y="195.064" width="26.0" height="14.221" fill="#ff7700"/>
<rect x="941.5" y="181.244" width="26.0" height="14.221" fill="#ff6000"/>
<rect x="941.5" y="167.423" width="26.0" height="14.221" fill="#ff4700"/>
<rect x="941.5" y="153.603" width="26.0" height="14.221" fill="#ff3000"/>
<rect x="941.5" y="139.782" width="26.0" height="14.221" fill="#ff1600"/>
<rect x="941.5" y="125.962" width="26.0" height="14.221" fill="#e40000"/>
<rect x="941.5" y="112.141" width="26.0" height="14.221" fill="#c80000"/>
<rect x="941.5" y="98.321" width="26.0" height="14.221" fill="#a80000"/>
<rect x="941.5" y="84.500" width="26.0" height="14.221" fill="#8d0000"/>
<rect class="ln" x="941.5" y="84.5" width="26.0" height="539.0"/>
<path class="ln" d="M967.5 84.50h4.86M967.5 219.25h4.86M967.5 354.00h4.86M967.5 488.75h4.86M967.5 623.50h4.86"/>
<g opacity="0.999">
<text class="sans" y="139.22" font-size="30.4"><tspan x="105.70" textLength="34.60" lengthAdjust="spacingAndGlyphs">10</tspan></text>
<text class="sans" y="251.51" font-size="30.4"><tspan x="123.00" textLength="17.30" lengthAdjust="spacingAndGlyphs">5</tspan></text>
<text class="sans" y="363.80" font-size="30.4"><tspan x="123.00" textLength="17.30" lengthAdjust="spacingAndGlyphs">0</tspan></text>
<text class="sans" y="476.09" font-size="30.4"><tspan x="101.82" textLength="19.09" lengthAdjust="spacingAndGlyphs">−</tspan><tspan x="123.00" textLength="17.30" lengthAdjust="spacingAndGlyphs">5</tspan></text>
<text class="sans" y="588.38" font-size="30.4"><tspan x="84.52" textLength="19.09" lengthAdjust="spacingAndGlyphs">−</tspan><tspan x="105.70" textLength="34.60" lengthAdjust="spacingAndGlyphs">10</tspan></text>
<text class="sans" y="654.50" font-size="30.4"><tspan x="204.30" textLength="17.00" lengthAdjust="spacingAndGlyphs">0</tspan></text>
<text class="sans" y="654.50" font-size="30.4"><tspan x="319.10" textLength="34.00" lengthAdjust="spacingAndGlyphs">10</tspan></text>
<text class="sans" y="654.50" font-size="30.4"><tspan x="443.10" textLength="34.00" lengthAdjust="spacingAndGlyphs">20</tspan></text>
<text class="sans" y="654.50" font-size="30.4"><tspan x="567.10" textLength="34.00" lengthAdjust="spacingAndGlyphs">30</tspan></text>
<text class="sans" y="654.50" font-size="30.4"><tspan x="691.10" textLength="34.00" lengthAdjust="spacingAndGlyphs">40</tspan></text>
<text class="sans" y="654.50" font-size="30.4"><tspan x="815.10" textLength="34.00" lengthAdjust="spacingAndGlyphs">50</tspan></text>
<text class="sans" y="91.70" font-size="22.8"><tspan x="977.20" textLength="58.62" lengthAdjust="spacingAndGlyphs">31.52</tspan></text>
<text class="sans" y="226.45" font-size="22.8"><tspan x="977.20" textLength="58.62" lengthAdjust="spacingAndGlyphs">15.76</tspan></text>
<text class="sans" y="361.20" font-size="22.8"><tspan x="977.20" textLength="45.62" lengthAdjust="spacingAndGlyphs">0.00</tspan></text>
<text class="sans" y="495.95" font-size="22.8"><tspan x="978.77" textLength="14.32" lengthAdjust="spacingAndGlyphs">−</tspan><tspan x="994.66" textLength="58.62" lengthAdjust="spacingAndGlyphs">15.76</tspan></text>
<text class="sans" y="630.70" font-size="22.8"><tspan x="978.77" textLength="14.32" lengthAdjust="spacingAndGlyphs">−</tspan><tspan x="994.66" textLength="58.62" lengthAdjust="spacingAndGlyphs">31.52</tspan></text>
<text class="mono" x="288.42" y="75.6" font-size="29.5" textLength="468.16" lengthAdjust="spacingAndGlyphs" xml:space="preserve">ez_averaged at 240.098339 fs</text>
<g transform="translate(469,689.6)"><text class="mono" y="0" font-size="29.5" xml:space="preserve"><tspan x="0" textLength="50.16" lengthAdjust="spacingAndGlyphs">X [</tspan><tspan class="ital" x="51.5" font-size="27.8" textLength="40.5" lengthAdjust="spacingAndGlyphs">μm</tspan><tspan x="91.5" textLength="16.72" lengthAdjust="spacingAndGlyphs">]</tspan></text></g>
<g transform="translate(66.4,405.5) rotate(-90)"><text class="mono" y="0" font-size="29.5" xml:space="preserve"><tspan x="0" textLength="50.16" lengthAdjust="spacingAndGlyphs">Z [</tspan><tspan class="ital" x="51.5" font-size="27.8" textLength="40.5" lengthAdjust="spacingAndGlyphs">μm</tspan><tspan x="91.5" textLength="16.72" lengthAdjust="spacingAndGlyphs">]</tspan></text></g>
<g transform="translate(1080.6,564.60) rotate(-90)"><text class="mono" x="0" y="0" font-size="29.5" textLength="418.00" lengthAdjust="spacingAndGlyphs" xml:space="preserve">Normalized electric field</text></g>
</g>
</svg>
</body></html>
